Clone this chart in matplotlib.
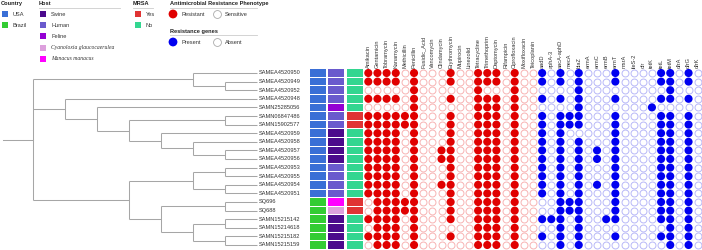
import matplotlib
matplotlib.use("Agg")
import matplotlib.pyplot as plt
from matplotlib.patches import Rectangle

plt.rcParams['font.family'] = ['Liberation Sans', 'DejaVu Sans']

# ---------------- data ----------------
samples = ["SAMEA4520950", "SAMEA4520949", "SAMEA4520952", "SAMEA4520948",
           "SAMN25285056", "SAMN06847486", "SAMN15902577", "SAMEA4520959",
           "SAMEA4520958", "SAMEA4520957", "SAMEA4520956", "SAMEA4520953",
           "SAMEA4520955", "SAMEA4520954", "SAMEA4520951", "SQ696", "SQ688",
           "SAMN15215142", "SAMN15214618", "SAMN15215182", "SAMN15215159"]

country = ["USA"] * 15 + ["Brazil"] * 6
host = ["Human", "Human", "Human", "Human", "Feline", "Human", "Human",
        "Swine", "Swine", "Swine", "Swine", "Human", "Human", "Human", "Human",
        "Manacus manacus", "Cyanoloxia glaucocaerulea",
        "Swine", "Swine", "Swine", "Swine"]
mrsa = ["No"] * 5 + ["Yes", "Yes"] + ["No"] * 8 + ["Yes", "Yes"] + ["No"] * 4

antibiotics = ["Amikacin", "Gentamicin", "Tobramycin", "Kanamycin", "Methicillin",
               "Penicillin", "Fusidic_Acid", "Vancomycin", "Clindamycin",
               "Erythromycin", "Mupirocin", "Linezolid", "Tetracycline",
               "Trimethoprim", "Daptomycin", "Rifampicin", "Ciprofloxacin",
               "Moxifloxacin", "Teicoplanin"]
genes = ["aadD", "aphA-3", "aacA-aphD", "mecA", "blaZ", "ermA", "ermC", "ermB",
         "ermT", "msrA", "ileS-2", "cfr", "tetK", "tetL", "tetM", "dfrA", "dfrG", "dfrK"]

# 1 = resistant, 0 = sensitive (one string per sample, antibiotic order)
phenotype = [
    "1111010001001110100",
    "1111010001001110100",
    "0000010000001000100",
    "1111010001001110100",
    "0000010000001110100",
    "1111110001001110100",
    "1111110001001110100",
    "1111010001001110100",
    "1111010001001110100",
    "1111010011001110100",
    "1111010011001110100",
    "1111010001001110100",
    "1111010001001110100",
    "1111010011001110100",
    "1111010001001110100",
    "0111110001001110100",
    "0111110001001110100",
    "1111010001001110100",
    "0111010000001110100",
    "1111010001001110100",
    "0111010000001110100",
]
# 1 = present, 0 = absent (gene order)
genotype = [
    "101010001000011010",
    "101010001000011010",
    "000010000000001000",
    "101010001000011010",
    "000010000000100000",
    "101110001000011010",
    "101110001000011010",
    "101000001000011010",
    "101010001000011010",
    "101010101000011010",
    "101010101000011010",
    "101010001000011010",
    "101010001000011010",
    "101010101000011010",
    "101010001000011010",
    "001110001000011010",
    "001110001000011010",
    "111010011000011010",
    "001010000000001010",
    "101010001000011010",
    "001010000000001010",
]

# tree topology (leaf indices refer to rows)
tree = [[0, [1, 2]],
        [3, [4, [[5, 6], [7, [8, [9, 10]]]]]],
        [[[11, 12], [13, 14]], [[15, 16], [[17, 18], [19, 20]]]]]

country_colors = {"USA": "#3a6fd6", "Brazil": "#33cc33"}
host_colors = {"Swine": "#4b0a8c", "Human": "#6a5acd", "Feline": "#9400d3",
               "Cyanoloxia glaucocaerulea": "#dda0dd", "Manacus manacus": "#ff00ff"}
mrsa_colors = {"Yes": "#e03434", "No": "#33d690"}
RED = "#e00000"
RED_L = "#f7b3b3"
BLUE = "#0000f0"
BLUE_L = "#b8b8f8"
TXT = "#333333"
FS = 4.1

# ---------------- figure ----------------
W, H = 702, 250
fig = plt.figure(figsize=(W / 100, H / 100), dpi=100)

row0, rstep = 73.0, 8.6          # pixel row positions
col0, cstep = 368.3, 9.15        # pixel column positions
ktop, kbot = (0 - row0) / rstep, (H - row0) / rstep

# ---- tree axes ----
tx0, tstep = 33.0, 32.0
axt = fig.add_axes([0, 0, 262 / W, 1])
axt.set_xlim(-tx0 / tstep, (262 - tx0) / tstep)
axt.set_ylim(kbot, ktop)
axt.axis("off")
LC = "#a6a6a6"
LW = 0.75

def height(node):
    if isinstance(node, int):
        return 0
    return 1 + max(height(c) for c in node)

MAXD = height(tree)

def draw(node):
    if isinstance(node, int):
        return MAXD, node
    res = [draw(c) for c in node]
    x = MAXD - height(node)
    ys = [r[1] for r in res]
    y = (min(ys) + max(ys)) / 2
    axt.plot([x, x], [min(ys), max(ys)], color=LC, lw=LW, solid_capstyle="butt")
    for cx, cy in res:
        axt.plot([x, cx], [cy, cy], color=LC, lw=LW, solid_capstyle="butt")
    return x, y

rx, ry = draw(tree)
axt.plot([rx - 0.94, rx], [ry, ry], color=LC, lw=LW)

for k, s in enumerate(samples):
    axt.text(MAXD + 0.06, k, s, ha="left", va="center", fontsize=FS, color=TXT,
             clip_on=False)

# ---- matrix axes ----
mx0 = 300
axm = fig.add_axes([mx0 / W, 0, (W - mx0) / W, 1])
axm.set_xlim((mx0 - col0) / cstep, (W - col0) / cstep)
axm.set_ylim(kbot, ktop)
axm.axis("off")

tw, th = 16 / cstep, 7.6 / rstep
for k in range(len(samples)):
    for xc, col in ((-5.5, country_colors[country[k]]),
                    (-3.5, host_colors[host[k]]),
                    (-1.5, mrsa_colors[mrsa[k]])):
        axm.add_patch(Rectangle((xc - tw / 2, k - th / 2), tw, th, facecolor=col,
                                edgecolor="none"))

na = len(antibiotics)
fx, fy, ex, ey = [], [], [], []
gfx, gfy, gex, gey = [], [], [], []
for k in range(len(samples)):
    for j, v in enumerate(phenotype[k]):
        (fx if v == "1" else ex).append(j)
        (fy if v == "1" else ey).append(k)
    for j, v in enumerate(genotype[k]):
        (gfx if v == "1" else gex).append(na + j)
        (gfy if v == "1" else gey).append(k)

S_F, S_E = 34, 25
axm.scatter(ex, ey, s=S_E, facecolor="white", edgecolor=RED_L, linewidth=0.7)
axm.scatter(fx, fy, s=S_F, facecolor=RED, edgecolor="none")
axm.scatter(gex, gey, s=S_E, facecolor="white", edgecolor=BLUE_L, linewidth=0.7)
axm.scatter(gfx, gfy, s=S_F, facecolor=BLUE, edgecolor="none")

for j, name in enumerate(antibiotics + genes):
    axm.text(j, -0.6, name, rotation=90, ha="center", va="bottom", fontsize=FS,
             color=TXT)

# ---- legend (pixel coordinates) ----
axl = fig.add_axes([0, 0, 1, 1], zorder=5)
axl.set_xlim(0, W)
axl.set_ylim(H, 0)
axl.axis("off")

def title(x, y, t, x2=None):
    axl.text(x, y, t, fontsize=FS, fontweight="bold", color="#222222",
             ha="left", va="center")
    if x2 is not None:
        axl.plot([x, x2], [y + 4.2, y + 4.2], color="#cccccc", lw=0.6)

def swatch(x, y, c, label, italic=False):
    axl.add_patch(Rectangle((x, y - 3), 6, 6, facecolor=c, edgecolor="none"))
    if italic:
        axl.text(x + 11, y, label, fontsize=FS, color=TXT, ha="left", va="center",
                 family="Liberation Serif", style="italic")
    else:
        axl.text(x + 11, y, label, fontsize=FS, color=TXT, ha="left", va="center")

title(1, 3.5, "Country")
for i, c in enumerate(["USA", "Brazil"]):
    swatch(1.5, 14 + 11.2 * i, country_colors[c], c)

title(39, 3.5, "Host", 120)
host_order = ["Swine", "Human", "Feline", "Cyanoloxia glaucocaerulea", "Manacus manacus"]
for i, h in enumerate(host_order):
    swatch(40, 14 + 11.2 * i, host_colors[h], h, italic=(i >= 3))

title(133, 3.5, "MRSA", 153)
for i, m in enumerate(["Yes", "No"]):
    swatch(135, 14 + 11.2 * i, mrsa_colors[m], m)

title(170, 3.5, "Antimicrobial Resistance Phenotype", 257)
axl.scatter([173], [14], s=40, facecolor=RED, edgecolor="none")
axl.scatter([217], [14], s=32, facecolor="white", edgecolor="#aaaaaa", linewidth=0.6)
axl.text(182, 14, "Resistant", fontsize=FS, color=TXT, va="center")
axl.text(225, 14, "Sensitive", fontsize=FS, color=TXT, va="center")

title(170, 31, "Resistance genes", 257)
axl.scatter([173], [42], s=40, facecolor=BLUE, edgecolor="none")
axl.scatter([217], [42], s=32, facecolor="white", edgecolor="#aaaaaa", linewidth=0.6)
axl.text(182, 42, "Present", fontsize=FS, color=TXT, va="center")
axl.text(225, 42, "Absent", fontsize=FS, color=TXT, va="center")

fig.savefig("out.png", dpi=100, facecolor="white")
